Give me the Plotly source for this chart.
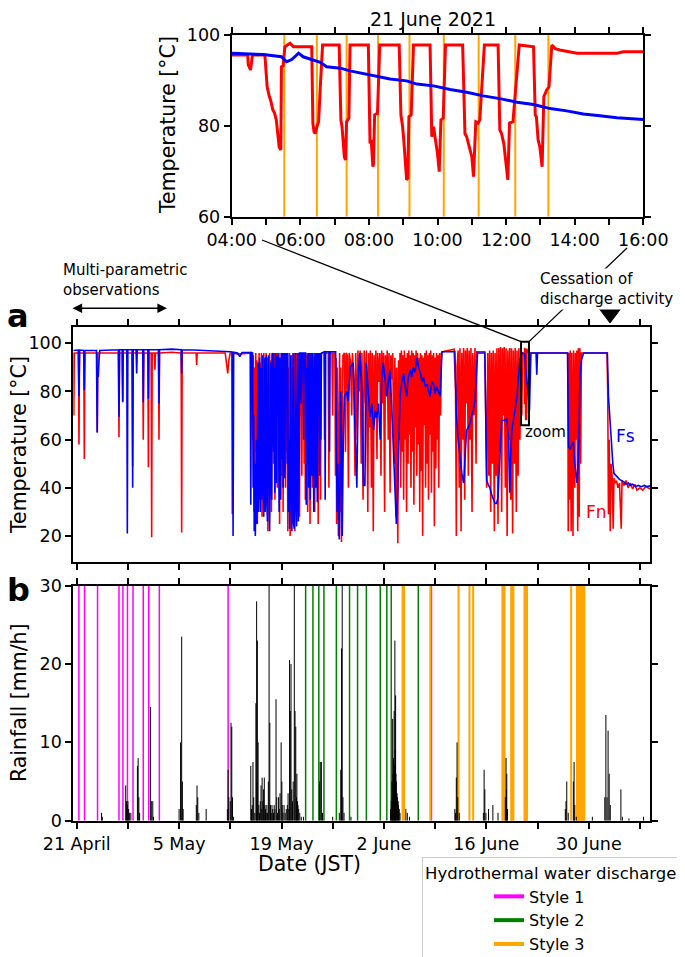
import pandas as pd
import plotly.graph_objects as go

W, H = 685, 957          # target picture size
OFF = 8                  # default page-body margin of the browser
FW, FH = W - OFF, H - OFF
FONT = "DejaVu Sans"

# ---------------- data ----------------
START = pd.Timestamp("2021-04-21")   # day 0 of the day-offset lists below
INSET_DAY = "2021-06-21"

# inset (21 June 2021) : (time, temperature)
INSET_FN = [("04:00",95.6),("04:28",95.6),("04:29",93.4),("04:33",92.3),("04:36",95.3),("04:38",95.6),
    ("04:58",95.6),("05:02",88.6),("05:06",86.4),("05:08",85.7),("05:12",83.5),("05:15",82.8),("05:18",81.3),
    ("05:20",78.3),("05:23",75.4),("05:26",74.7),("05:27",93.0),("05:30",93.2),("05:33",97.4),("05:42",98.2),
    ("05:45",97.8),("05:48",97.4),("06:20",97.4),("06:22",80.6),("06:24",78.7),("06:26",78.3),("06:29",79.8),
    ("06:32",80.9),("06:35",88.6),("06:39",97.8),("07:08",97.8),("07:11",81.3),("07:13",79.8),("07:15",76.9),
    ("07:17",73.2),("07:19",72.5),("07:21",80.9),("07:25",81.7),("07:27",97.8),("07:59",97.8),("08:02",76.1),
    ("08:04",76.9),("08:07",71.0),("08:08",71.7),("08:10",82.4),("08:14",82.8),("08:15",82.8),("08:19",97.8),
    ("08:53",97.8),("08:56",82.4),("08:59",79.8),("09:01",76.9),("09:04",72.5),("09:06",68.1),("09:08",68.5),
    ("09:10",82.0),("09:14",82.4),("09:18",97.8),("09:47",97.8),("09:50",77.6),("09:53",79.8),("09:56",77.6),
    ("10:00",73.9),("10:03",69.9),("10:06",81.3),("10:10",81.7),("10:14",97.8),("10:44",97.8),("10:48",78.3),
    ("10:51",77.6),("10:56",75.4),("11:00",73.2),("11:03",68.8),("11:07",80.9),("11:11",80.6),("11:14",81.3),
    ("11:22",97.8),("11:46",97.8),("11:49",79.1),("11:52",78.3),("11:56",76.1),("12:00",71.0),("12:03",68.1),
    ("12:06",80.6),("12:12",80.9),("12:23",97.8),("12:48",97.4),("12:51",82.4),("12:53",82.0),("12:56",76.9),
    ("12:59",75.4),("13:03",71.0),("13:06",86.4),("13:11",87.9),("13:15",88.6),("13:20",97.8),("13:26",97.0),
    ("13:34",96.7),("14:04",96.0),("15:14",96.0),("15:25",96.3),("16:00",96.3)]
INSET_FS = [("04:00",96.0),("04:55",95.7),("05:27",95.2),("05:36",94.1),("05:45",94.6),("05:57",96.0),
    ("06:05",95.2),("06:17",94.7),("06:35",94.0),("06:46",93.0),("07:10",92.7),("07:27",92.1),("07:56",91.4),
    ("08:14",91.0),("08:37",90.3),("09:06",89.9),("09:24",89.2),("09:53",88.8),("10:22",88.0),("10:51",87.4),
    ("11:20",86.6),("11:49",86.0),("12:19",85.2),("12:48",84.7),("13:17",83.8),("13:46",83.3),("14:15",82.6),
    ("14:44",82.2),("15:14",81.8),("16:00",81.4)]
INSET_STYLE3 = ["05:32","06:29","07:21","08:16","09:11","10:11","11:12","12:16","13:14"]

# panel a: (days since 21 April, temperature), before / after the zoom window
FN_A = [(-0.47,96),(-0.40,70),(-0.33,96),(0.24,96),(0.31,58),(0.38,96),(0.97,96),(1.04,52),(1.11,96),
    (2.75,96),(2.82,63),(2.89,96),(5.71,96),(5.78,61),(5.85,96),(6.22,96),(6.29,76),(6.36,96),
    (7.58,96),(7.65,49),(7.72,96),(9.03,96),(9.10,60),(9.17,96),(9.73,96),(9.80,48.5),(9.87,96),
    (10.18,96),(10.25,19.5),(10.32,96),(10.63,96),(10.70,89),(10.77,96),(11.18,96),(11.25,60),(11.32,96),
    (13.0,96.3),(14.28,96),(14.35,21.5),(14.42,96),(16.33,96),(16.40,91),(16.47,96),
    (20.3,96),(20.55,90),(20.65,87.5),(20.8,93),(21.0,96),(21.2,96),(21.27,29),(21.34,96),
    (22.0,95.5),(23.9,96),(24.0,92),(24.08,60),(24.15,95),(24.25,30),(24.33,90),(24.4,55),(24.48,96),
    (24.55,40),(24.62,93),(24.7,25),(24.78,88),(24.86,60),(24.94,96),(25.02,35),(25.1,92),(25.18,70),
    (25.26,96),(25.34,28),(25.42,90),(25.5,50),(25.58,96),(25.66,33),(25.74,85),(25.82,60),(25.9,96),
    (25.98,40),(26.06,94),(26.14,22),(26.22,90),(26.3,65),(26.38,96),(26.46,45),(26.54,93),(26.62,30),
    (26.7,96),(26.78,75),(26.86,95),(26.94,50),(27.02,96),(27.1,35),(27.18,93),(27.26,80),(27.34,96),
    (27.42,40),(27.5,95),(27.58,60),(27.66,96),(27.74,25),(27.82,92),(27.9,70),(27.98,96),(28.06,45),
    (28.14,95),(28.22,30),(28.3,96),(28.38,65),(28.46,95),(28.54,40),(28.62,96),(28.7,55),(28.78,94),
    (28.86,22),(28.94,90),(29.02,45),(29.1,96),(29.18,20),(29.26,85),(29.34,40),(29.42,95),(29.5,25),
    (29.58,90),(29.66,60),(29.74,96),(29.82,22),(29.9,93),(29.98,50),(30.06,96),(30.14,30),(30.22,92),
    (30.3,60),(30.38,96),(30.46,28),(30.54,95),(30.62,70),(30.7,96),(30.78,45),(30.86,96),(30.94,80),
    (31.02,96),(31.1,50),(31.18,95),(31.26,35),(31.34,96),(31.42,65),(31.5,95),(31.58,30),(31.66,96),
    (31.74,55),(31.82,94),(31.9,25),(31.98,96),(32.06,70),(32.14,95),(32.22,40),(32.3,96),(32.38,60),
    (32.46,94),(32.54,30),(32.62,96),(32.7,75),(32.78,95),(32.86,45),(32.94,96),(33.02,25),(33.1,94),
    (33.18,65),(33.26,96),(33.34,35),(33.42,95),(33.5,96),(33.8,96),(33.88,60),(33.96,96),(34.4,96),
    (34.48,40),(34.56,96),(34.9,96),(34.98,70),(35.06,96),(35.3,96),(35.38,45),(35.46,94),(35.54,25),
    (35.62,90),(35.7,55),(35.78,20),(35.86,60),(35.94,96),(36.02,30),(36.1,90),(36.2,17.5),(36.3,60),
    (36.4,95),(36.6,96),(36.75,55),(36.85,96),
    (37.0,95),(37.15,40),(37.25,96),(37.45,92),(37.6,70),(37.7,96),(37.9,85),(38.05,45),(38.15,96),(38.35,60),
    (38.45,97),(38.6,80),(38.75,97),(38.9,50),(39.0,96),(39.15,35),(39.3,97),(39.5,75),(39.6,97),(39.8,30),
    (39.9,96),(40.05,65),(40.15,97),(40.3,40),(40.4,96),(40.55,22),(40.65,95),(40.8,70),(40.9,97),(41.05,52),
    (41.15,96),(41.3,84),(41.45,96),(41.6,45),(41.7,97),(41.85,75),(41.95,96),(42.1,30),(42.2,95),(42.35,80),
    (42.45,97),(42.6,60),(42.7,96),(42.85,38),(42.95,95),(43.1,85),(43.2,96),(43.4,50),(43.5,94),(43.65,28),
    (43.75,90),(43.9,17),(44.0,93),(44.1,60),(44.2,96),(44.3,40),(44.4,97),(44.5,55),(44.6,95),(44.7,35),
    (44.8,97),(44.9,60),(45.0,94),(45.1,30),(45.2,96),(45.3,50),(45.4,97),(45.5,62),(45.6,95),(45.7,40),
    (45.8,97),(45.9,55),(46.0,96),(46.1,33),(46.2,95),(46.3,65),(46.4,97),(46.5,45),(46.6,96),(46.7,58),
    (46.8,94),(46.9,30),(47.0,96),(47.1,47),(47.2,95),(47.3,20),(47.4,94),(47.5,66),(47.6,96),(47.7,40),
    (47.8,97),(47.9,50),(48.0,95),(48.1,35),(48.2,96),(48.3,62),(48.4,97),(48.5,38),(48.6,95),(48.7,55),
    (48.8,96),(48.9,24),(49.0,94),(49.1,48),(49.2,96),(49.3,60),(49.4,95),(49.5,40),(49.6,96),(49.75,70),
    (49.85,96),(50.0,96.5),(51.0,97),(51.6,97.5),(51.8,80),(51.9,20),(52.0,90),(52.15,97),(52.3,40),(52.4,98),
    (52.55,22),(52.65,96),(52.8,60),(52.9,98),(53.05,35),(53.15,97),(53.3,75),(53.4,98),(53.55,45),(53.65,97),
    (53.8,60),(53.9,98),(54.05,30),(54.15,96),(54.3,70),(54.45,98),(54.6,50),(54.7,96.5),(55.8,96.5),
    (55.95,60),(56.05,40),(56.2,96),(56.35,45),(56.45,97),(56.6,30),(56.7,96),(56.85,50),(56.95,97),(57.1,22),
    (57.2,96),(57.35,45),(57.45,98),(57.6,25),(57.7,98),(57.85,55),(57.95,98.5),(58.1,30),(58.2,98),
    (58.35,70),(58.45,98.5),(58.6,40),(58.7,98),(58.85,20),(58.95,97),(59.1,60),(59.2,98),(59.35,35),
    (59.45,98),(59.6,21),(59.7,97),(59.85,50),(59.95,98),(60.1,30),(60.2,97),(60.35,45),(60.45,98),(60.6,60),
    (60.7,97),(60.85,70),(60.95,96)]
FN_B = [(62.0,96),(67.0,96),(67.15,96),(67.2,22),(67.27,96),(67.4,35),(67.48,97),(67.6,22),(67.68,96),
    (67.85,20),(67.93,97),(68.1,40),(68.18,96),(68.3,60),(68.38,97),(68.5,22),(68.58,98),(68.7,28),(68.78,98),
    (68.9,50),(69.0,96),(69.3,96),(72.5,96),(72.6,80),(72.7,29),(72.8,60),(72.95,22),(73.05,50),(73.2,45),
    (73.35,23),(73.45,44),(73.6,42),(73.8,43),(74.0,40),(74.2,42),(74.45,23),(74.55,43),(74.8,41),(75.1,43),
    (75.4,40),(75.7,42),(76.0,39.5),(76.3,41.5),(76.6,39),(77.0,40),(77.4,39),(77.8,40.5),(78.4,39.5)]

FS_A = [(-0.47,97.0),(0.22,97.2),(0.31,78),(0.40,97.2),(0.97,97.0),(1.04,80.5),(1.12,97.0),
    (2.70,97.0),(2.80,63),(2.86,90),(2.95,86),(3.05,93),(3.15,97.0),(5.70,97.3),(5.78,69.5),(5.86,97.3),
    (6.22,97.3),(6.29,75.5),(6.36,97.3),(6.85,97.3),(6.92,21),(6.99,97.3),(7.58,97.3),(7.65,40),(7.72,97.3),
    (8.12,97.3),(8.20,87.5),(8.28,97.3),(9.03,97.3),(9.10,75.5),(9.17,97.3),(9.73,97.3),(9.80,77),(9.87,97.3),
    (11.18,97.3),(11.25,75),(11.32,97.3),(13.0,97.6),(14.28,97.3),(14.35,87.5),(14.42,97.3),(16.0,97.2),
    (18.5,97.0),(20.5,96.8),(21.0,96.5),(21.30,96.3),(21.38,20),(21.46,96.3),(22.0,96.0),(22.3,94.5),
    (22.6,96.2),(23.72,96.2),(23.80,33),(23.88,96.2),
    (24.05,96),(24.12,40),(24.2,70),(24.27,22),(24.35,50),(24.42,20),(24.5,35),(24.57,60),(24.63,25),
    (24.7,45),(24.78,92),(24.85,30),(24.92,40),(25.0,94),(25.07,55),(25.13,30),(25.2,90),(25.28,35),
    (25.35,70),(25.42,95),(25.5,40),(25.57,28),(25.64,60),(25.7,94),(25.78,30),(25.85,50),(25.92,95),
    (26.0,35),(26.07,26),(26.15,80),(26.22,95),(26.3,45),(26.37,22),(26.45,40),(26.52,92),(26.6,60),
    (26.67,35),(26.75,95),(26.85,96),(26.93,55),(27.0,90),(27.08,38),(27.15,96),(27.23,60),(27.3,42),
    (27.38,95),(27.45,70),(27.52,96),(27.6,48),(27.68,30),(27.75,94),(27.83,65),(27.9,35),(27.98,96),
    (28.06,52),(28.14,96),(28.22,40),(28.3,85),(28.38,96),(28.46,44),(28.54,96),(28.62,75),(28.7,96),
    (28.78,50),(28.86,96),(28.94,30),(29.02,60),(29.1,23),(29.18,45),(29.26,95),(29.34,35),(29.42,22),
    (29.5,50),(29.58,96),(29.66,25),(29.74,23),(29.82,60),(29.9,96),(29.98,30),(30.06,24),(30.14,70),
    (30.22,96),(30.3,26),(30.38,40),(30.46,96),(30.6,96),(30.68,75),(30.76,96),(30.95,96),(31.03,60),
    (31.1,96),(31.3,96),(31.38,33),(31.46,90),(31.54,50),(31.62,96),(31.7,40),(31.78,85),(31.86,96),
    (31.94,35),(32.02,75),(32.1,96),(32.18,45),(32.26,96),(32.34,60),(32.42,30),(32.5,90),(32.58,96),
    (32.66,40),(32.74,96),(32.82,55),(32.9,34),(32.98,96),(33.06,70),(33.14,96),(33.22,45),(33.3,96),
    (33.38,60),(33.46,96),(33.9,96.5),(33.97,35),(34.04,96.5),(34.5,96.5),(34.57,55),(34.64,96.5),
    (35.4,96.5),(35.5,60),(35.6,30),(35.7,50),(35.8,20),(35.9,18.5),(36.0,40),(36.1,80),(36.2,60),
    (36.3,20),(36.45,60),(36.6,78),(36.9,80),
    (37.1,76),(37.4,90),(37.8,92),(38.0,70),(38.3,40),(38.5,85),(38.7,96),(39.0,80),(39.2,41),(39.4,41),
    (39.6,92),(39.85,80),(40.1,69.5),(40.35,75),(40.6,64),(40.8,72),(41.0,69),(41.25,75),(41.5,60),(41.7,85),
    (41.9,92),(42.15,85),(42.4,78),(42.6,84),(42.8,89),(43.05,75),(43.3,57),(43.5,40),(43.7,25),(43.85,35),
    (44.0,50),(44.2,78),(44.45,84),(44.7,87.5),(44.9,82),(45.1,78),(45.35,86),(45.6,89),(45.8,86),(46.0,90),
    (46.25,88),(46.5,94),(46.75,90),(47.0,87.5),(47.2,84),(47.4,86),(47.65,82),(47.9,83),(48.1,80),(48.3,78),
    (48.55,84),(48.8,83),(49.0,79),(49.2,82),(49.45,80),(49.7,78),(49.85,90),(49.95,96.5),(51.7,96.5),
    (51.9,71),(52.15,60),(52.4,53),(52.65,46),(52.9,42),(53.1,55),(53.3,64),(53.55,65),(53.8,67),(54.0,70),
    (54.2,72),(54.45,76),(54.65,85),(54.8,96),(55.8,96),(56.06,43),(56.3,41),(56.5,40),(56.75,37),(57.0,35),
    (57.2,33.5),(57.4,33.5),(57.6,36),(57.8,50),(57.95,60),(58.1,68),(58.4,68),(58.8,68.5),(59.05,60),
    (59.2,38),(59.35,55),(59.5,64),(59.8,70),(60.0,75),(60.2,78),(60.4,86),(60.6,93),(60.85,96)]
FS_B = [(61.8,75),(61.9,72),(62.0,85),(62.1,96),(62.8,96),(62.9,87),(63.0,96),(67.1,96),(67.25,57),
    (67.5,56),(67.7,58),(67.9,59),(68.1,50),(68.4,42),(68.55,50),(68.65,59),(68.8,85),(69.0,93),(69.3,96),
    (72.55,96),(72.7,78),(72.95,65),(73.1,60),(73.3,50),(73.45,46),(73.7,45),(73.9,44.5),(74.2,43.5),
    (74.5,43),(74.8,42.5),(75.1,41.5),(75.4,42),(75.7,41),(76.0,41.5),(76.4,40.5),(76.8,41),(77.2,40.5),
    (77.6,41),(78.0,40.5),(78.4,40.8)]

# panel b: hourly rainfall (days since 21 April, mm/h)
RAIN = [(3.4,1.0),(3.5,0.5),(6.7,4.5),(6.8,2.5),(6.9,2.0),(7.0,2.5),(7.1,1.5),(7.2,1.0),(7.4,1.0),
    (8.3,7.0),(8.4,8.0),(8.5,3.0),(8.6,1.0),(10.1,14.5),(10.2,2.5),(10.4,2.5),(10.5,0.5),
    (14.0,1.5),(14.2,10.0),(14.35,23.5),(14.45,5.0),(14.55,1.5),(16.35,2.0),(16.45,4.5),(16.55,3.0),(16.7,1.0),
    (17.7,1.5),(20.6,1.5),(20.7,6.5),(20.8,3.0),(21.0,2.5),(21.1,12.5),(21.2,12.0),(21.3,3.0),(21.45,0.5),
    (23.8,7.0),(23.9,1.5),(24.0,2.0),(24.1,7.5),(24.2,3.0),(24.35,1.0),(24.5,15.0),(24.6,28.0),(24.65,5.0),
    (24.7,23.0),(24.8,10.0),(24.9,2.0),(25.0,1.0),(25.1,2.5),(25.2,4.5),(25.3,1.5),(25.35,5.5),(25.45,2.5),
    (25.55,4.0),(25.65,5.5),(25.75,2.0),(25.8,1.5),(25.9,1.0),(26.0,2.0),(26.1,1.0),(26.2,5.0),(26.3,30.0),
    (26.4,12.5),(26.5,2.0),(26.6,1.0),(26.7,2.0),(26.8,1.5),(26.9,1.0),(27.0,2.0),(27.1,1.5),(27.25,15.5),
    (27.35,3.0),(27.45,1.0),(27.6,3.0),(27.7,1.5),(27.8,3.5),(27.95,10.0),(28.05,5.0),(28.1,2.0),(28.2,1.0),
    (28.35,2.0),(28.5,1.0),(28.65,1.5),(28.8,2.0),(28.9,3.5),(29.0,1.5),(29.1,20.5),(29.2,14.0),(29.3,20.0),
    (29.4,4.0),(29.5,2.5),(29.6,5.0),(29.75,30.0),(29.85,14.0),(29.95,12.0),(30.05,3.0),(30.1,6.0),(30.2,2.5),
    (30.25,2.0),(30.35,1.5),(30.5,1.0),(30.7,0.5),(31.0,0.5),(33.2,5.0),(33.3,7.5),(33.45,7.5),(33.6,1.0),
    (35.0,0.5),(35.9,1.0),(36.1,6.5),(36.2,22.0),(36.3,30.0),(36.4,3.0),(36.55,1.0),(37.5,0.5),
    (42.9,1.5),(43.0,2.5),(43.1,5.0),(43.15,3.0),(43.2,13.0),(43.25,6.0),(43.3,8.0),(43.4,14.0),(43.45,7.0),
    (43.5,23.0),(43.55,9.0),(43.6,16.0),(43.65,6.0),(43.7,5.0),(43.8,3.5),(43.85,3.0),(43.95,2.5),(44.0,2.0),
    (44.1,1.5),(44.2,1.0),(45.0,1.5),(45.2,1.0),(45.5,0.5),(51.7,1.5),(51.8,1.0),(51.9,5.5),(52.0,10.0),
    (52.1,3.0),(52.3,1.0),(55.6,1.0),(55.7,6.5),(55.8,4.0),(55.95,1.0),(56.3,1.5),(56.9,2.0),(57.6,1.0),
    (58.6,3.0),(58.7,8.0),(58.75,4.0),(58.8,6.0),(58.9,1.5),(66.8,1.5),(66.9,2.5),(67.0,5.0),(67.2,1.0),
    (67.9,5.0),(68.0,7.5),(68.1,2.0),(68.3,0.5),(70.5,0.5),(72.2,3.0),(72.35,13.5),(72.5,3.0),(72.65,11.5),
    (72.8,6.0),(72.95,2.0),(74.4,4.0),(74.6,0.5),(75.5,0.3),(77.5,0.5)]

# discharge events (days since 21 April)
STYLE1 = [0.30,1.07,2.85,5.78,6.32,6.94,7.70,9.10,9.85,11.30,20.70,48.50]
STYLE2 = [31.3,32.3,33.1,33.8,35.5,37.3,38.4,39.6,41.5,42.4,43.0,46.7]
STYLE3 = [44.55,44.75,48.35,52.2,53.7,54.2,58.2,58.3,58.4,58.5,59.4,59.5,59.6,59.7,67.6,
          68.4,68.5,68.6,68.7,68.8,68.9,69.0,69.1,69.2,69.3,69.4]

WEEK_TICKS = ["2021-04-21","2021-04-28","2021-05-05","2021-05-12","2021-05-19","2021-05-26",
              "2021-06-02","2021-06-09","2021-06-16","2021-06-23","2021-06-30","2021-07-07"]
WEEK_LABELS = ["21 April","","5 May","","19 May","","2 June","","16 June","","30 June",""]
HOUR_TICKS = ["04:00","05:00","06:00","07:00","08:00","09:00","10:00","11:00","12:00",
              "13:00","14:00","15:00","16:00"]
HOUR_LABELS = ["04:00","","06:00","","08:00","","10:00","","12:00","","14:00","","16:00"]

# ---------------- helpers ----------------
def day(d):
    return START + pd.Timedelta(days=d)

def hm(t):
    return pd.Timestamp(INSET_DAY + " " + t)

def px(p):
    return (p - OFF) / FW

def py(p):
    return 1 - (p - OFF) / FH

def vsegs(xs, y0, ys):
    X, Y = [], []
    for x, y in zip(xs, ys):
        X += [x, x, None]
        Y += [y0, y, None]
    return X, Y

fig = go.Figure()

# ---- inset ----
s3x = [hm(t) for t in INSET_STYLE3]
X, Y = vsegs(s3x, 60, [100] * len(s3x))
fig.add_trace(go.Scatter(x=X, y=Y, mode="lines", line=dict(color="#ffa500", width=2),
                         xaxis="x", yaxis="y", showlegend=False, hoverinfo="skip"))
fig.add_trace(go.Scatter(x=[hm(t) for t, _ in INSET_FN], y=[v for _, v in INSET_FN], mode="lines",
                         line=dict(color="#ff0000", width=3), xaxis="x", yaxis="y", showlegend=False))
fig.add_trace(go.Scatter(x=[hm(t) for t, _ in INSET_FS], y=[v for _, v in INSET_FS], mode="lines",
                         line=dict(color="#0000ff", width=3), xaxis="x", yaxis="y", showlegend=False))

# ---- panel a ----
fn_x = [day(d) for d, _ in FN_A] + [hm(t) for t, _ in INSET_FN] + [day(d) for d, _ in FN_B]
fn_y = [v for _, v in FN_A] + [v for _, v in INSET_FN] + [v for _, v in FN_B]
fs_x = [day(d) for d, _ in FS_A] + [hm(t) for t, _ in INSET_FS] + [day(d) for d, _ in FS_B]
fs_y = [v for _, v in FS_A] + [v for _, v in INSET_FS] + [v for _, v in FS_B]
fig.add_trace(go.Scatter(x=fn_x, y=fn_y, mode="lines", line=dict(color="#ff0000", width=1.6),
                         xaxis="x2", yaxis="y2", showlegend=False))
fig.add_trace(go.Scatter(x=fs_x, y=fs_y, mode="lines", line=dict(color="#0000ff", width=1.6),
                         xaxis="x2", yaxis="y2", showlegend=False))

# ---- panel b ----
for days, col, wd in [(STYLE1, "#ff00ff", 1.5), (STYLE2, "#008000", 1.5)]:
    X, Y = vsegs([day(d) for d in days], 0, [30] * len(days))
    fig.add_trace(go.Scatter(x=X, y=Y, mode="lines", line=dict(color=col, width=wd),
                             xaxis="x3", yaxis="y3", showlegend=False, hoverinfo="skip"))
s3 = [day(d) for d in STYLE3] + s3x
X, Y = vsegs(s3, 0, [30] * len(s3))
fig.add_trace(go.Scatter(x=X, y=Y, mode="lines", line=dict(color="#ffa500", width=2),
                         xaxis="x3", yaxis="y3", showlegend=False, hoverinfo="skip"))
X, Y = vsegs([day(d) for d, _ in RAIN], 0, [v for _, v in RAIN])
fig.add_trace(go.Scatter(x=X, y=Y, mode="lines", line=dict(color="black", width=1),
                         xaxis="x3", yaxis="y3", showlegend=False, hoverinfo="skip"))

# legend entries
for name, col in [("Style 1", "#ff00ff"), ("Style 2", "#008000"), ("Style 3", "#ffa500")]:
    fig.add_trace(go.Scatter(x=[None], y=[None], mode="lines", name=name,
                             line=dict(color=col, width=4), xaxis="x3", yaxis="y3"))

ax = dict(showline=True, linecolor="black", linewidth=2, mirror="allticks", ticks="outside",
          ticklen=6, tickwidth=1.5, tickcolor="black", showgrid=False, zeroline=False,
          automargin=False, tickfont=dict(size=17.5, family=FONT, color="black"))

xr = [day(-0.465), day(78.38)]
fig.update_layout(
    template="none",
    width=FW, height=FH, margin=dict(l=0, r=0, t=0, b=0, pad=0, autoexpand=False), autosize=False,
    paper_bgcolor="white", plot_bgcolor="white",
    font=dict(family=FONT, color="black"),
    xaxis=dict(ax, domain=[px(231.7), px(643.3)], anchor="y", type="date",
               range=[hm("04:00"), hm("16:00")], tickvals=[hm(t) for t in HOUR_TICKS],
               ticktext=HOUR_LABELS),
    yaxis=dict(ax, domain=[py(216.7), py(35)], anchor="x", range=[60, 100], tickvals=[60, 80, 100]),
    xaxis2=dict(ax, domain=[px(73.3), px(650)], anchor="y2", type="date", range=xr,
                tickvals=WEEK_TICKS, showticklabels=False),
    yaxis2=dict(ax, domain=[py(562), py(326.7)], anchor="x2", range=[9.2, 106.9],
                tickvals=[20, 40, 60, 80, 100]),
    xaxis3=dict(ax, domain=[px(73.3), px(650)], anchor="y3", type="date", range=xr,
                tickvals=WEEK_TICKS, ticktext=WEEK_LABELS),
    yaxis3=dict(ax, domain=[py(820.7), py(585.7)], anchor="x3", range=[0, 30],
                tickvals=[0, 10, 20, 30]),
    legend=dict(x=px(422), y=py(857), xanchor="left", yanchor="top", bgcolor="white",
                bordercolor="#cccccc", borderwidth=1, font=dict(size=16, family=FONT),
                title=dict(text="Hydrothermal water discharge", font=dict(size=16.5, family=FONT)),
                indentation=66, tracegroupgap=0),
)

# shapes: zoom box, connectors, cessation marker
fig.add_shape(type="rect", xref="x2", yref="y2", x0="2021-06-20 18:00", x1="2021-06-21 20:00",
              y0=66, y1=100.7, line=dict(color="black", width=2))
fig.add_shape(type="line", xref="paper", yref="paper", x0=px(262), y0=py(240), x1=px(521), y1=py(341.6),
              line=dict(color="black", width=1.3))
fig.add_shape(type="line", xref="paper", yref="paper", x0=px(627), y0=py(248), x1=px(529), y1=py(341.6),
              line=dict(color="black", width=1.3))
fig.add_shape(type="path", xref="paper", yref="paper",
              path=f"M {px(598)},{py(307)} L {px(622)},{py(307)} L {px(610)},{py(323)} Z",
              fillcolor="black", line=dict(color="black", width=1))

ann = []
def text(x, y, s, size, **kw):
    d = dict(x=px(x), y=py(y), xref="paper", yref="paper", text=s, showarrow=False,
             xanchor="center", yanchor="middle",
             font=dict(size=size, family=FONT, color=kw.pop("color", "black")))
    d.update(kw)
    ann.append(d)

text(433, 19, "21 June 2021", 19)
text(168, 125, "Temperature [°C]", 20.5, textangle=-90)
text(19, 445, "Temperature [°C]", 20.5, textangle=-90)
text(19, 703, "Rainfall [mm/h]", 20.5, textangle=-90)
text(309, 864, "Date (JST)", 20.5)
text(18, 316, "<b>a</b>", 32)
text(19, 590, "<b>b</b>", 32)
text(61, 280, "Multi-parametric<br>observations", 15, xanchor="left", align="left")
text(538, 289, "Cessation of<br>discharge activity", 15, xanchor="left", align="left",
     bgcolor="white")
text(545, 432, "zoom", 15)
text(625, 436, "Fs", 17, color="#0000ff")
text(596, 512, "Fn", 17, color="#ff0000")
ann.append(dict(xref="paper", yref="paper", axref="pixel", ayref="pixel",
                x=px(167), y=py(308.3), ax=71 - 167, ay=0, text="", showarrow=True,
                arrowhead=2, arrowside="end+start", arrowsize=1.2, arrowwidth=1.6, arrowcolor="black"))
fig.update_layout(annotations=ann)

fig.write_html("out.html", config={"displayModeBar": False})
